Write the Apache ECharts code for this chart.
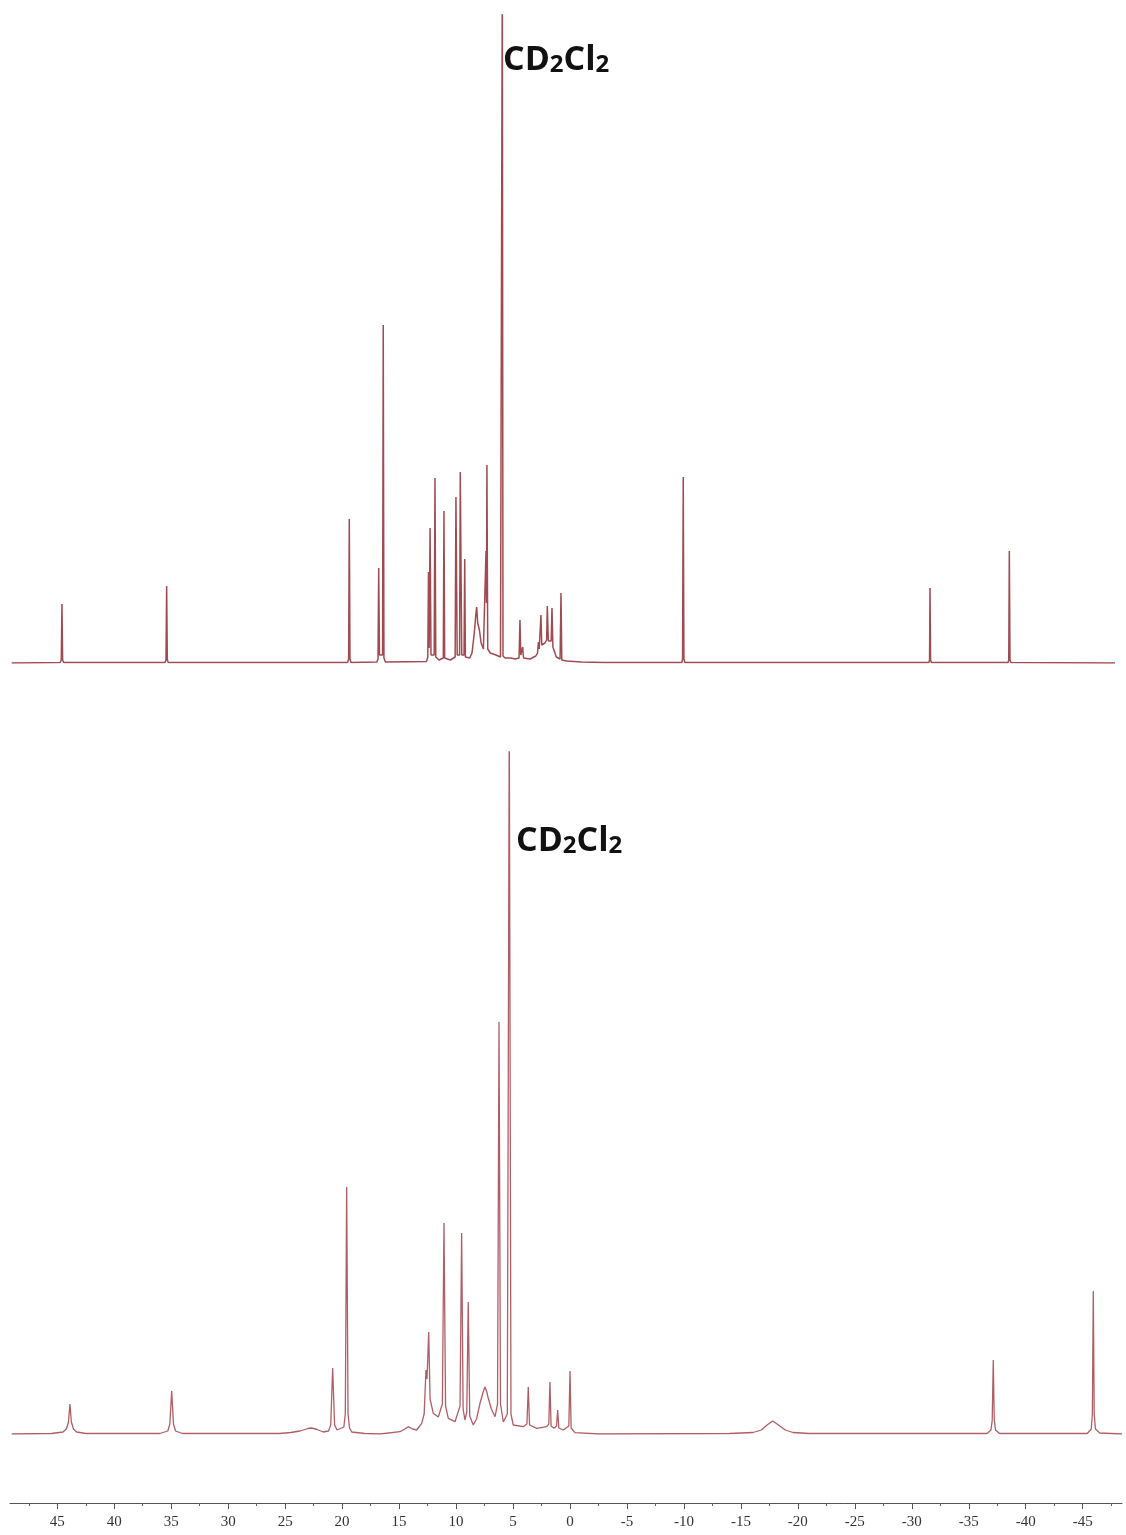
<!DOCTYPE html>
<html>
<head>
<meta charset="utf-8">
<script src="https://cdn.jsdelivr.net/npm/echarts@6/dist/echarts.min.js"></script>
<style>
  html, body { margin: 0; padding: 0; background: #fff; }
  #chart-container { width: 1126px; height: 1535px; }
</style>
</head>
<body>
<div id="chart-container"></div>
<script>
// ppm range shown on the shared x axis (left edge -> right edge)
var ppmMax = 49.15;
var ppmMin = -48.45;

// tick labels
var majorTicks = [45, 40, 35, 30, 25, 20, 15, 10, 5, 0, -5, -10, -15, -20, -25, -30, -35, -40, -45];
var minorTicks = [47.5, 42.5, 37.5, 32.5, 27.5, 22.5, 17.5, 12.5, 7.5, 2.5, -2.5, -7.5, -12.5, -17.5, -22.5, -27.5, -32.5, -37.5, -42.5, -47.5];

// upper spectrum, [ppm, intensity]
var spectrumTop = [
  [49.0, 0],
  [44.75, 0.5], [44.65, 3], [44.59, 59], [44.53, 3], [44.43, 0.5],
  [35.55, 0.5], [35.46, 3], [35.40, 77], [35.34, 3], [35.25, 0.5],
  [19.52, 0.5], [19.43, 4], [19.37, 144], [19.31, 4], [19.22, 0.5],
  [16.95, 1], [16.85, 4], [16.79, 95], [16.72, 8], [16.45, 8], [16.39, 338], [16.33, 5], [16.2, 1],
  [12.6, 1.5], [12.48, 6], [12.42, 91], [12.36, 15], [12.28, 135], [12.2, 8], [11.92, 8], [11.85, 185], [11.78, 6],
  [11.5, 3], [11.12, 5], [11.06, 152], [11.0, 5], [10.5, 3],
  [10.08, 6], [10.01, 166], [9.9, 8], [9.69, 8], [9.63, 191], [9.5, 8], [9.3, 8], [9.24, 104], [9.18, 6],
  [8.8, 5], [8.6, 10], [8.4, 30], [8.25, 50], [8.19, 56], [8.1, 40], [7.95, 33], [7.8, 20], [7.6, 14],
  [7.43, 14], [7.37, 112], [7.33, 60], [7.29, 198], [7.22, 14],
  [7.0, 10], [6.5, 8], [6.1, 6], [6.0, 7], [5.94, 700], [5.88, 7], [5.7, 5], [5.2, 5], [4.8, 4],
  [4.47, 5], [4.39, 43], [4.32, 8], [4.15, 16], [4.08, 5], [3.5, 4], [3.0, 7],
  [2.85, 10], [2.77, 21], [2.7, 14], [2.55, 48], [2.48, 18], [2.2, 20], [2.05, 23], [1.99, 57], [1.9, 22],
  [1.65, 22], [1.58, 55], [1.5, 16], [1.2, 6],
  [0.87, 4], [0.79, 70], [0.72, 3], [0.3, 2], [-1.0, 1], [-3.0, 0.5],
  [-9.82, 0.5], [-9.88, 4], [-9.94, 186], [-10.0, 4], [-10.08, 0.5],
  [-31.5, 0.5], [-31.56, 3], [-31.60, 75], [-31.65, 3], [-31.72, 0.5],
  [-38.45, 0.5], [-38.51, 3], [-38.56, 112], [-38.62, 3], [-38.7, 0.5],
  [-47.84, 0]
];

// lower spectrum
var spectrumBottom = [
  [49.0, 0],
  [45.5, 0.5], [44.5, 2], [44.2, 5], [44.02, 12], [43.89, 30], [43.76, 12], [43.58, 5], [43.3, 2], [42.5, 0.5],
  [36.0, 0.5], [35.3, 3], [35.12, 10], [34.96, 43], [34.8, 10], [34.62, 3], [34.0, 0.5],
  [25.5, 0.5], [24.5, 1.5], [23.7, 3], [23.0, 5.5], [22.67, 6], [22.2, 4.5], [21.65, 2],
  [21.2, 3], [21.0, 9], [20.83, 66], [20.66, 9], [20.45, 4], [20.34, 4],
  [19.85, 7], [19.72, 20], [19.60, 247], [19.48, 20], [19.35, 6], [19.16, 2], [18.0, 0.5], [16.68, 0],
  [14.92, 2.3], [14.5, 5], [14.19, 7.3], [13.8, 5], [13.46, 4], [13.02, 10.7],
  [12.8, 20], [12.64, 64], [12.55, 55], [12.40, 102], [12.28, 35], [12.0, 20.7], [11.56, 17],
  [11.2, 30], [11.06, 211], [10.92, 28], [10.68, 15.7], [10.09, 12.3],
  [9.65, 28], [9.51, 201], [9.38, 25], [9.22, 14], [9.06, 22], [8.93, 132], [8.8, 18], [8.49, 9],
  [8.2, 15], [7.90, 30.7], [7.62, 42], [7.46, 47], [7.3, 42], [7.17, 35.7], [6.9, 25], [6.58, 17.3],
  [6.36, 30], [6.23, 412], [6.1, 30], [5.85, 12], [5.5, 20], [5.33, 720], [5.18, 20], [4.98, 9],
  [4.10, 7.3], [3.78, 10], [3.66, 47], [3.55, 9], [2.92, 5.7], [2.05, 7.3],
  [1.86, 10], [1.76, 52], [1.66, 8], [1.4, 5.7], [1.18, 8], [1.08, 24], [0.98, 6], [0.59, 4],
  [0.1, 8], [0.0, 63], [-0.1, 6], [-0.44, 1.3], [-2.6, 0],
  [-14.0, 0.5], [-16.06, 1.5], [-16.8, 4], [-17.3, 9], [-17.79, 13], [-18.3, 9], [-18.9, 4], [-19.57, 1.5], [-21.0, 0.5],
  [-36.6, 0.5], [-36.95, 4], [-37.06, 14], [-37.15, 74], [-37.24, 14], [-37.35, 4], [-37.7, 0.5],
  [-45.4, 0.5], [-45.75, 5], [-45.85, 20], [-45.93, 143], [-46.01, 20], [-46.12, 5], [-46.5, 1],
  [-48.45, 0]
];

var solventLabel = '{a|CD}{b|2}{a|Cl}{b|2}';

var dom = document.getElementById('chart-container');
var myChart = echarts.init(dom, null, { renderer: 'canvas' });

var labelRich = {
  a: { fontFamily: 'Open Sans', fontWeight: 'bold', fontSize: 34, lineHeight: 40, color: '#111', verticalAlign: 'bottom' },
  b: { fontFamily: 'Open Sans', fontWeight: 'bold', fontSize: 24, lineHeight: 26, color: '#111', verticalAlign: 'bottom' }
};

function hiddenX(gridIndex) {
  return {
    type: 'value', gridIndex: gridIndex, min: ppmMin, max: ppmMax, inverse: true,
    show: false, splitLine: { show: false }
  };
}

var option = {
  animation: false,
  backgroundColor: '#fff',
  title: [
    { text: solventLabel, left: 503, top: 37, padding: 0, textStyle: { rich: labelRich } },
    { text: solventLabel, left: 516, top: 818, padding: 0, textStyle: { rich: labelRich } }
  ],
  grid: [
    { left: 10, right: 4, top: 15, height: 648, outerBoundsMode: 'none' },
    { left: 10, right: 4, top: 752, height: 682, outerBoundsMode: 'none' },
    { left: 10, right: 4, top: 1502, height: 1, outerBoundsMode: 'none' }
  ],
  xAxis: [
    hiddenX(0),
    hiddenX(1),
    {
      type: 'value', gridIndex: 2, min: ppmMin, max: ppmMax, inverse: true, position: 'bottom',
      axisLine: { show: true, lineStyle: { color: '#555', width: 1 } },
      axisTick: { show: true, customValues: majorTicks, length: 6, lineStyle: { color: '#555' } },
      axisLabel: {
        show: true, customValues: majorTicks, margin: 12,
        fontFamily: 'Liberation Serif', fontSize: 15, color: '#333'
      },
      splitLine: { show: false }
    },
    {
      type: 'value', gridIndex: 2, min: ppmMin, max: ppmMax, inverse: true, position: 'bottom',
      axisLine: { show: false },
      axisTick: { show: true, customValues: minorTicks, length: 3, lineStyle: { color: '#666' } },
      axisLabel: { show: false },
      splitLine: { show: false }
    }
  ],
  yAxis: [
    { type: 'value', gridIndex: 0, min: 0, max: 648, show: false, splitLine: { show: false } },
    { type: 'value', gridIndex: 1, min: 0, max: 682, show: false, splitLine: { show: false } },
    { type: 'value', gridIndex: 2, min: 0, max: 1, show: false, splitLine: { show: false } }
  ],
  series: [
    {
      name: 'top', type: 'line', xAxisIndex: 0, yAxisIndex: 0,
      data: spectrumTop, showSymbol: false, clip: true,
      lineStyle: { color: '#a04b52', width: 1.5 }
    },
    {
      name: 'bottom', type: 'line', xAxisIndex: 1, yAxisIndex: 1,
      data: spectrumBottom, showSymbol: false, clip: true,
      lineStyle: { color: '#b05e65', width: 1.3 }
    }
  ]
};

myChart.setOption(option);
window.addEventListener('resize', myChart.resize);
</script>
</body>
</html>
